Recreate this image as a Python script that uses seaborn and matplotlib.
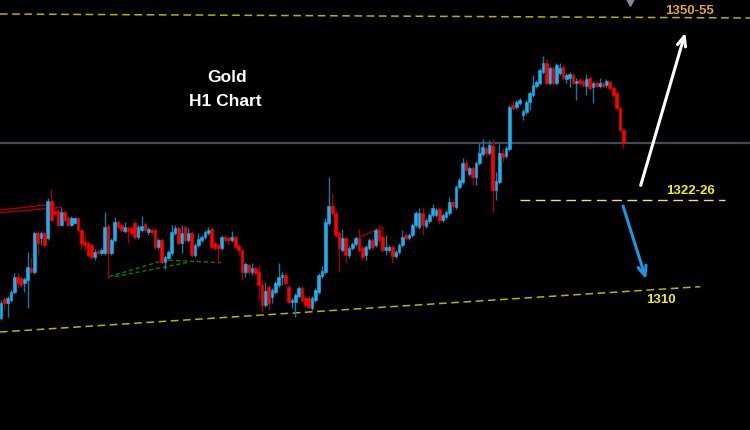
import numpy as np
import pandas as pd
import matplotlib
matplotlib.use("Agg")
import matplotlib.pyplot as plt
import seaborn as sns

# Gold H1 candles (USD/oz), oldest first
opens = [
    1306.3, 1309.2, 1308.6, 1309.0, 1310.2, 1312.5, 1312.3, 1311.6, 1312.0, 1313.8,
    1313.2, 1319.1, 1318.3, 1319.1, 1318.3, 1323.9, 1322.4, 1322.4, 1320.3, 1322.2,
    1321.3, 1320.3, 1320.6, 1321.3, 1319.5, 1317.7, 1317.6, 1317.3, 1315.5, 1316.4,
    1316.1, 1316.1, 1320.1, 1316.1, 1318.0, 1320.7, 1320.3, 1319.4, 1319.8, 1319.8,
    1320.6, 1318.5, 1319.5, 1320.4, 1319.2, 1319.5, 1319.5, 1317.0, 1318.0, 1314.7,
    1315.3, 1316.1, 1319.1, 1319.8, 1317.6, 1320.0, 1318.0, 1319.1, 1315.8, 1317.3,
    1318.0, 1318.5, 1319.1, 1319.7, 1317.6, 1317.3, 1316.8, 1318.5, 1318.3, 1318.0,
    1318.5, 1317.1, 1316.5, 1313.2, 1314.3, 1313.2, 1313.8, 1313.2, 1311.3, 1308.3,
    1311.0, 1309.5, 1310.2, 1311.3, 1312.5, 1312.8, 1311.0, 1308.7, 1308.7, 1309.6,
    1310.8, 1309.3, 1309.3, 1307.8, 1309.0, 1310.2, 1312.6, 1313.2, 1320.6, 1323.1,
    1322.1, 1319.1, 1316.5, 1318.3, 1315.8, 1316.8, 1317.4, 1318.3, 1316.8, 1315.8,
    1316.8, 1318.0, 1317.3, 1319.5, 1318.5, 1316.5, 1316.5, 1317.0, 1315.6, 1316.2,
    1317.3, 1318.8, 1318.3, 1318.8, 1320.3, 1320.0, 1322.1, 1320.1, 1320.9, 1321.8,
    1321.8, 1322.7, 1321.0, 1321.5, 1322.1, 1323.7, 1323.0, 1326.0, 1326.7, 1329.6,
    1327.9, 1328.8, 1327.5, 1329.6, 1330.9, 1331.8, 1331.1, 1332.1, 1325.5, 1326.7,
    1331.1, 1330.6, 1331.7, 1338.3, 1338.0, 1338.6, 1336.8, 1337.2, 1338.7, 1339.8,
    1341.1, 1341.6, 1343.2, 1344.6, 1341.6, 1343.8, 1341.6, 1343.1, 1344.0, 1342.2,
    1342.3, 1342.8, 1341.6, 1342.0, 1341.9, 1341.1, 1342.3, 1341.0, 1341.6, 1341.1,
    1341.6, 1341.3, 1341.7, 1340.8, 1340.1, 1337.8, 1334.5,
]
highs = [
    1309.0, 1309.5, 1309.6, 1310.5, 1313.1, 1313.1, 1312.6, 1312.5, 1316.2, 1315.5,
    1319.4, 1319.4, 1319.4, 1319.4, 1324.3, 1325.7, 1322.8, 1322.7, 1322.8, 1322.5,
    1321.6, 1321.6, 1321.5, 1321.5, 1319.7, 1318.8, 1317.9, 1317.6, 1316.7, 1316.7,
    1316.8, 1322.2, 1320.4, 1318.3, 1321.5, 1321.0, 1320.6, 1320.7, 1320.1, 1320.1,
    1320.9, 1320.3, 1321.6, 1320.7, 1320.0, 1319.8, 1319.8, 1318.3, 1318.3, 1315.8,
    1316.5, 1320.3, 1320.3, 1320.1, 1320.3, 1320.3, 1319.8, 1319.4, 1317.6, 1319.1,
    1318.8, 1319.5, 1320.0, 1320.0, 1317.9, 1317.6, 1318.8, 1318.8, 1318.6, 1319.4,
    1318.8, 1317.4, 1316.8, 1314.7, 1314.6, 1314.6, 1314.1, 1314.3, 1312.0, 1311.7,
    1311.3, 1310.8, 1311.9, 1314.6, 1313.2, 1313.1, 1311.3, 1309.3, 1310.1, 1311.1,
    1311.1, 1309.6, 1309.6, 1309.6, 1310.8, 1313.1, 1314.1, 1321.3, 1327.5, 1325.1,
    1322.4, 1319.4, 1319.7, 1318.6, 1317.1, 1317.7, 1318.6, 1319.7, 1317.1, 1317.3,
    1318.3, 1318.3, 1319.8, 1320.3, 1318.8, 1318.8, 1317.3, 1317.3, 1316.5, 1317.6,
    1319.5, 1319.1, 1319.1, 1320.6, 1322.4, 1322.8, 1323.0, 1321.3, 1322.1, 1323.4,
    1322.8, 1323.0, 1322.1, 1322.5, 1324.5, 1324.0, 1326.3, 1327.3, 1330.3, 1330.0,
    1329.1, 1329.1, 1329.9, 1332.6, 1333.2, 1332.1, 1333.0, 1333.2, 1328.2, 1332.4,
    1331.8, 1332.1, 1338.3, 1339.0, 1339.0, 1339.3, 1337.7, 1339.0, 1340.4, 1342.8,
    1342.0, 1343.8, 1345.6, 1345.2, 1344.1, 1344.1, 1344.6, 1344.6, 1344.3, 1343.1,
    1343.2, 1343.1, 1342.3, 1342.3, 1342.2, 1342.9, 1342.6, 1341.9, 1341.9, 1342.3,
    1341.9, 1342.2, 1342.0, 1341.1, 1340.4, 1338.1, 1334.8,
]
lows = [
    1306.0, 1307.5, 1306.5, 1308.7, 1309.9, 1311.0, 1311.0, 1310.2, 1307.8, 1313.1,
    1312.9, 1315.8, 1317.3, 1317.0, 1318.0, 1320.7, 1321.8, 1320.0, 1320.1, 1320.7,
    1320.1, 1320.1, 1320.4, 1319.2, 1316.7, 1316.5, 1315.5, 1315.2, 1315.0, 1315.8,
    1315.8, 1315.8, 1312.3, 1315.8, 1317.7, 1319.7, 1319.2, 1319.1, 1317.6, 1318.8,
    1318.2, 1318.2, 1319.2, 1319.2, 1318.8, 1318.8, 1316.7, 1316.7, 1314.4, 1313.7,
    1315.0, 1315.8, 1318.8, 1317.3, 1316.1, 1317.7, 1317.7, 1315.5, 1315.5, 1317.0,
    1317.7, 1318.2, 1318.8, 1316.7, 1316.5, 1314.6, 1316.5, 1317.7, 1317.3, 1317.7,
    1316.7, 1315.8, 1312.0, 1312.5, 1312.9, 1312.8, 1312.8, 1309.0, 1307.2, 1308.0,
    1307.5, 1308.6, 1309.9, 1311.0, 1311.3, 1311.3, 1308.4, 1307.8, 1306.5, 1309.3,
    1308.7, 1308.0, 1307.7, 1307.5, 1308.7, 1309.9, 1312.3, 1312.9, 1320.3, 1321.8,
    1318.5, 1313.2, 1316.2, 1314.6, 1315.3, 1316.5, 1317.1, 1316.2, 1315.0, 1315.0,
    1316.5, 1316.5, 1317.0, 1317.7, 1316.2, 1315.8, 1316.2, 1314.6, 1315.3, 1315.9,
    1317.0, 1318.0, 1318.0, 1318.5, 1320.0, 1319.7, 1318.8, 1319.8, 1320.6, 1321.5,
    1321.5, 1320.4, 1320.7, 1321.2, 1321.8, 1322.7, 1322.7, 1325.7, 1326.4, 1328.2,
    1327.6, 1326.3, 1326.3, 1329.3, 1330.6, 1330.5, 1330.8, 1322.2, 1324.0, 1326.4,
    1329.7, 1330.3, 1331.4, 1337.5, 1337.7, 1338.3, 1336.0, 1336.9, 1337.5, 1339.5,
    1340.8, 1341.3, 1342.9, 1341.3, 1341.3, 1341.3, 1341.3, 1342.8, 1342.0, 1341.6,
    1341.0, 1341.3, 1339.0, 1341.3, 1341.0, 1339.8, 1340.5, 1338.6, 1340.8, 1340.8,
    1340.8, 1341.0, 1340.5, 1339.5, 1337.5, 1334.2, 1331.8,
]
closes = [
    1308.6, 1308.6, 1309.3, 1310.2, 1312.5, 1311.6, 1311.3, 1312.2, 1314.0, 1313.2,
    1319.1, 1317.6, 1319.1, 1317.3, 1323.9, 1321.0, 1321.9, 1320.3, 1322.2, 1321.0,
    1320.3, 1321.3, 1321.3, 1319.5, 1317.6, 1317.3, 1315.8, 1315.5, 1316.2, 1316.1,
    1316.5, 1320.0, 1316.1, 1318.0, 1320.7, 1320.0, 1319.5, 1320.0, 1319.4, 1319.1,
    1318.5, 1320.0, 1320.1, 1319.5, 1319.7, 1319.2, 1317.0, 1318.0, 1314.7, 1315.5,
    1316.2, 1319.2, 1319.8, 1317.6, 1319.1, 1318.0, 1319.1, 1315.8, 1317.3, 1318.2,
    1318.5, 1319.2, 1319.5, 1317.0, 1316.8, 1316.8, 1318.5, 1318.0, 1318.0, 1318.5,
    1317.0, 1316.5, 1313.2, 1314.4, 1313.2, 1313.8, 1313.1, 1311.3, 1308.3, 1310.4,
    1308.6, 1310.5, 1311.6, 1312.5, 1312.8, 1311.6, 1308.7, 1309.0, 1309.8, 1310.8,
    1309.0, 1308.3, 1308.0, 1309.3, 1310.5, 1312.8, 1313.4, 1320.7, 1323.1, 1322.1,
    1318.8, 1316.8, 1318.3, 1315.8, 1316.8, 1317.4, 1318.3, 1316.5, 1315.5, 1317.0,
    1318.0, 1317.0, 1319.5, 1318.0, 1316.5, 1317.0, 1317.0, 1315.6, 1316.2, 1317.3,
    1318.5, 1318.3, 1318.8, 1320.3, 1322.1, 1322.1, 1320.3, 1321.0, 1321.8, 1322.8,
    1322.5, 1321.0, 1321.8, 1322.2, 1323.7, 1323.1, 1326.0, 1327.0, 1329.6, 1328.5,
    1328.8, 1327.5, 1329.6, 1331.1, 1332.0, 1331.1, 1332.3, 1325.5, 1326.9, 1331.1,
    1330.5, 1331.8, 1338.0, 1337.8, 1338.7, 1339.0, 1337.4, 1338.7, 1340.1, 1341.3,
    1341.7, 1343.5, 1344.6, 1341.6, 1343.8, 1341.6, 1344.3, 1343.8, 1342.3, 1342.8,
    1342.9, 1341.6, 1341.7, 1341.6, 1341.3, 1342.2, 1340.8, 1341.6, 1341.1, 1341.6,
    1341.1, 1341.9, 1340.8, 1339.8, 1337.8, 1334.5, 1332.6,
]

# drawn objects on the chart: (bar index, price) anchors
top_line_x, top_line_y = [-0.3, 223.9], [1351.9, 1351.3]
bottom_line_x, bottom_line_y = [-0.3, 209.0], [1304.2, 1311.0]
mid_level_x, mid_level = [155.2, 216.5], 1324.0
gray_level = 1332.6
green1_x, green1_y = [32.3, 49.0, 65.8], [1312.5, 1315.0, 1314.6]
green2_x, green2_y = [34.1, 56.5], [1312.5, 1314.7]
red1_x, red1_y = [-0.3, 16.1], [1322.5, 1323.4]
red2_x, red2_y = [-0.3, 18.2, 18.2], [1322.1, 1322.9, 1322.5]
red3_x, red3_y = [107.3, 114.2, 114.2], [1318.45, 1319.95, 1318.0]
up_arrow = [(191.0, 1325.8), (204.8, 1349.5)]
down_arrow = [(185.7, 1323.5), (193.1, 1311.7)]

df = pd.DataFrame({"open": opens, "high": highs, "low": lows, "close": closes})
df["bar"] = np.arange(len(df))
df["up"] = df["close"] >= df["open"]

sns.set_style("dark", {"axes.facecolor": "black", "figure.facecolor": "black"})
plt.rcParams["font.family"] = ["Liberation Sans", "DejaVu Sans"]

fig = plt.figure(figsize=(7.5, 4.3), dpi=100)
ax = fig.add_axes([0, 0, 1, 1])
ax.set_facecolor("black")

# levels and drawn lines
ax.axhline(gray_level, color="#454a56", lw=1.6, zorder=1)
sns.lineplot(x=top_line_x, y=top_line_y, ax=ax, color="#b8b000", lw=1.1,
             estimator=None, sort=False, zorder=2).lines[-1].set_dashes((5, 3))
sns.lineplot(x=bottom_line_x, y=bottom_line_y, ax=ax, color="#b8b400", lw=1.1,
             estimator=None, sort=False, zorder=2).lines[-1].set_dashes((5, 3))
ax.plot(mid_level_x, [mid_level, mid_level], color="#e8e08c", lw=1.0, dashes=(7, 4), zorder=2)
ax.plot(green1_x, green1_y, color="#0a7a0a", lw=1.0, dashes=(3, 2), zorder=2)
ax.plot(green2_x, green2_y, color="#0a7a0a", lw=1.0, dashes=(3, 2), zorder=2)
ax.plot(red1_x, red1_y, color="#a00000", lw=1.0, zorder=2)
ax.plot(red2_x, red2_y, color="#a00000", lw=1.0, zorder=2)
ax.plot(red3_x, red3_y, color="#900000", lw=1.0, zorder=2)

# candles
for up, body_col, wick_col in [(True, "#1eb0ee", "#1478a8"), (False, "#ff0000", "#a00000")]:
    d = df[df["up"] == up]
    ax.vlines(d["bar"], d["low"], d["high"], color=wick_col, lw=1.0, zorder=3)
    bottom = np.minimum(d["open"], d["close"])
    height = np.maximum((d["close"] - d["open"]).abs(), 0.25)
    ax.bar(d["bar"], height, bottom=bottom, width=0.8, color=body_col,
           edgecolor=body_col, lw=0.4, zorder=4)

# arrows
ax.annotate("", xy=up_arrow[1], xytext=up_arrow[0],
            arrowprops=dict(arrowstyle="->,head_length=0.7,head_width=0.3", color="white", lw=2.2))
ax.annotate("", xy=down_arrow[1], xytext=down_arrow[0],
            arrowprops=dict(arrowstyle="->,head_length=0.7,head_width=0.3", color="#1e96dc", lw=2.2))

ax.plot([188.0], [1353.7], marker="v", color="#7f8c9a", ms=6, zorder=5)

# labels
ax.text(205.7, 1352.3, "1350-55", color="#e0aa2a", fontsize=9.5, fontweight="bold", ha="center", va="center")
ax.text(206.0, 1325.35, "1322-26", color="#f0f000", fontsize=9.5, fontweight="bold", ha="center", va="center")
ax.text(197.3, 1309.0, "1310", color="#f0f000", fontsize=9.5, fontweight="bold", ha="center", va="center")
ax.text(67.6, 1342.4, "Gold", color="white", fontsize=12.5, fontweight="bold", ha="center", va="center")
ax.text(67.0, 1338.85, "H1 Chart", color="white", fontsize=12.5, fontweight="bold", ha="center", va="center")

ax.set_xlim(-0.3, 223.9)
ax.set_ylim(1289.5, 1354.0)
ax.axis("off")

fig.savefig("out.png", dpi=100, facecolor="black")
